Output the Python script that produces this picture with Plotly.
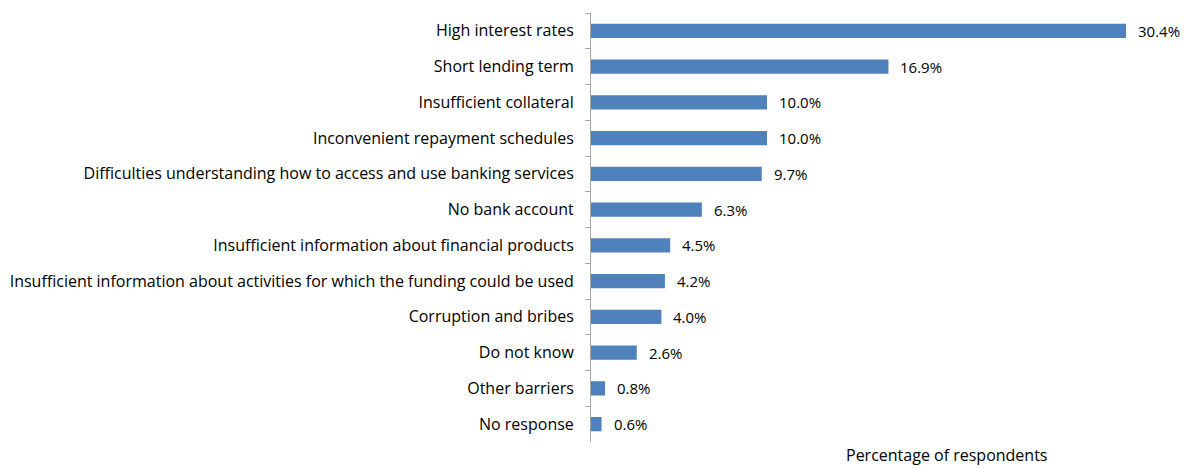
import plotly.graph_objects as go

categories = [
    "High interest rates",
    "Short lending term",
    "Insufficient collateral",
    "Inconvenient repayment schedules",
    "Difficulties understanding how to access and use banking services",
    "No bank account",
    "Insufficient information about financial products",
    "Insufficient information about activities for which the funding could be used",
    "Corruption and bribes",
    "Do not know",
    "Other barriers",
    "No response",
]
values = [30.4, 16.9, 10.0, 10.0, 9.7, 6.3, 4.5, 4.2, 4.0, 2.6, 0.8, 0.6]
labels = [f"{v:.1f}%" for v in values]

FONT = "Open Sans"
BAR = "#4F81BD"

fig = go.Figure(
    go.Bar(
        x=values,
        y=categories,
        orientation="h",
        width=0.4,
        marker=dict(color=BAR, line=dict(width=0)),
        hoverinfo="skip",
    )
)

# value labels placed just past the end of each bar
value_labels = [
    dict(
        x=v,
        y=c,
        xref="x",
        yref="y",
        text=t,
        xanchor="left",
        yanchor="middle",
        xshift=10,
        showarrow=False,
        font=dict(family=FONT, size=15, color="#000000"),
    )
    for c, v, t in zip(categories, values, labels)
]

fig.update_layout(
    width=1184,
    height=468,
    margin=dict(l=591, r=0, t=13, b=26),
    paper_bgcolor="white",
    plot_bgcolor="white",
    showlegend=False,
    font=dict(family=FONT, size=16, color="#000000"),
    bargap=0.6,
    xaxis=dict(
        range=[0, 593 / 17.6],
        showgrid=False,
        zeroline=False,
        showline=False,
        showticklabels=False,
        ticks="",
        fixedrange=True,
    ),
    yaxis=dict(
        autorange="reversed",
        showline=True,
        linecolor="#A6A6A6",
        linewidth=1,
        ticks="outside",
        ticklen=5,
        tickcolor="#A6A6A6",
        tickson="boundaries",
        showgrid=False,
        ticklabelstandoff=13,
        tickfont=dict(family=FONT, size=16, color="#000000"),
    ),
    annotations=value_labels + [
        dict(
            text="Percentage of respondents",
            xref="paper",
            yref="paper",
            x=(946 - 591) / 593,
            y=-13 / 429,
            xanchor="center",
            yanchor="middle",
            showarrow=False,
            font=dict(family=FONT, size=16, color="#000000"),
        )
    ],
)

fig.write_html("out.html")
